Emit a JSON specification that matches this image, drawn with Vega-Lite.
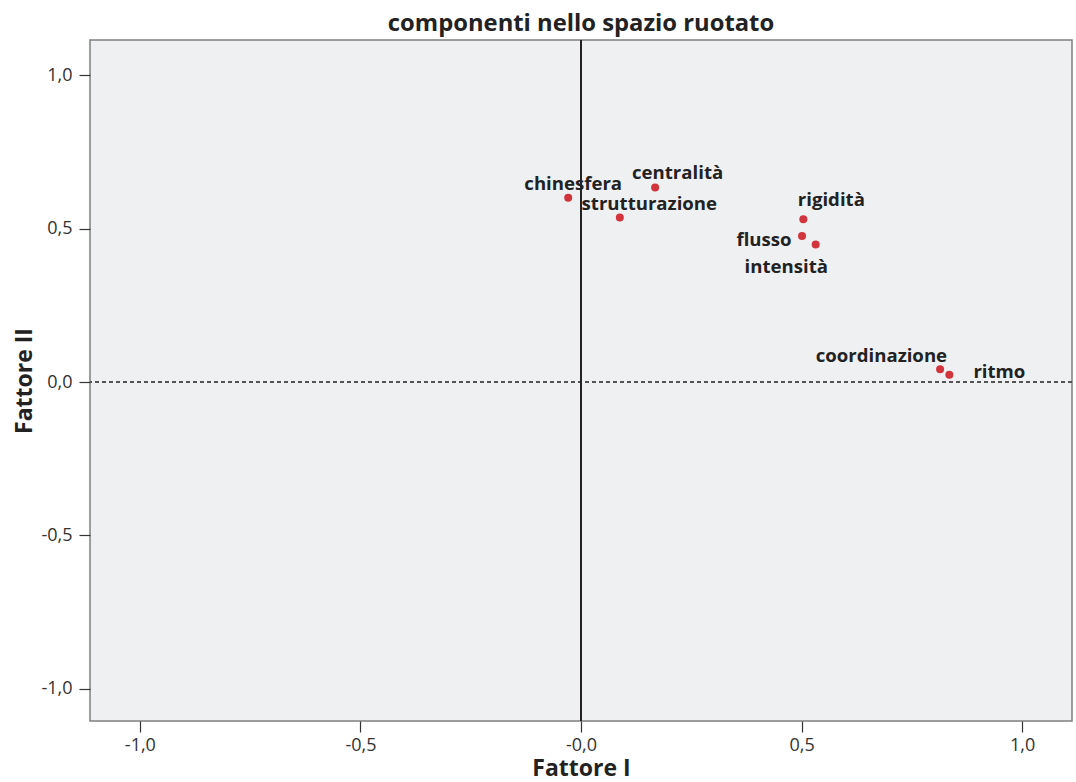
{
  "$schema": "https://vega.github.io/schema/vega-lite/v6.json",
  "autosize": "none",
  "width": 982,
  "height": 681,
  "padding": {"left": 90, "top": 40, "right": 4, "bottom": 61},
  "background": "#ffffff",
  "config": {
    "font": "Open Sans",
    "view": {"fill": "#eff0f2", "stroke": "#7f7f7f", "strokeWidth": 1.5},
    "axis": {"grid": false, "domain": false, "tickColor": "#333333", "tickSize": 11, "tickWidth": 1.2, "labelFont": "Open Sans", "labelFontSize": 18, "labelColor": "#333333", "titleFont": "Open Sans", "titleFontSize": 23, "titleFontWeight": "bold", "titleColor": "#222222"}
  },
  "title": {"text": "componenti nello spazio ruotato", "font": "Open Sans", "fontSize": 23.8, "fontWeight": "bold", "color": "#222222", "frame": "group", "anchor": "middle", "offset": 3},
  "data": {"values": [
    {"var": "chinesfera", "f1": -0.029, "f2": 0.601},
    {"var": "centralità", "f1": 0.168, "f2": 0.634},
    {"var": "strutturazione", "f1": 0.088, "f2": 0.536},
    {"var": "rigidità", "f1": 0.504, "f2": 0.531},
    {"var": "flusso", "f1": 0.501, "f2": 0.476},
    {"var": "intensità", "f1": 0.532, "f2": 0.448},
    {"var": "coordinazione", "f1": 0.814, "f2": 0.042},
    {"var": "ritmo", "f1": 0.835, "f2": 0.024}
  ]},
  "encoding": {
    "x": {"field": "f1", "type": "quantitative", "scale": {"domain": [-1.113, 1.113], "nice": false, "zero": false}, "axis": {"title": "Fattore I", "values": [-1, -0.5, 0, 0.5, 1], "labelExpr": "datum.value == 0 ? '-0,0' : (datum.value < 0 ? '-' : '') + replace(format(abs(datum.value), '.1f'), '.', ',')", "labelPadding": 4, "titleBaseline": "alphabetic", "titleY": 54.5}},
    "y": {"field": "f2", "type": "quantitative", "scale": {"domain": [-1.105, 1.115], "nice": false, "zero": false}, "axis": {"title": "Fattore II", "values": [-1, -0.5, 0, 0.5, 1], "labelExpr": "(datum.value < 0 ? '-' : '') + replace(format(abs(datum.value), '.1f'), '.', ',')", "labelPadding": 7, "titlePadding": 4}}
  },
  "layer": [
    {"mark": {"type": "rule", "color": "#555555", "strokeWidth": 1, "strokeDash": [4, 3]}, "encoding": {"y": {"datum": 0, "type": "quantitative"}, "x": null}},
    {"mark": {"type": "rule", "color": "#222222", "strokeWidth": 2}, "encoding": {"x": {"datum": 0, "type": "quantitative"}, "y": null}},
    {"mark": {"type": "point", "shape": "circle", "filled": true, "size": 64, "color": "#d1343c", "opacity": 1}},
    {"transform": [{"filter": "datum.var == 'chinesfera'"}], "mark": {"type": "text", "font": "Open Sans", "fontWeight": "bold", "fontSize": 18.6, "color": "#222222", "align": "center", "baseline": "alphabetic", "dx": 5, "dy": -8}, "encoding": {"text": {"field": "var"}}},
    {"transform": [{"filter": "datum.var == 'centralità'"}], "mark": {"type": "text", "font": "Open Sans", "fontWeight": "bold", "fontSize": 18.6, "color": "#222222", "align": "center", "baseline": "alphabetic", "dx": 22.5, "dy": -8.7}, "encoding": {"text": {"field": "var"}}},
    {"transform": [{"filter": "datum.var == 'strutturazione'"}], "mark": {"type": "text", "font": "Open Sans", "fontWeight": "bold", "fontSize": 18.6, "color": "#222222", "align": "center", "baseline": "alphabetic", "dx": 29.5, "dy": -8}, "encoding": {"text": {"field": "var"}}},
    {"transform": [{"filter": "datum.var == 'rigidità'"}], "mark": {"type": "text", "font": "Open Sans", "fontWeight": "bold", "fontSize": 18.6, "color": "#222222", "align": "center", "baseline": "alphabetic", "dx": 28, "dy": -13}, "encoding": {"text": {"field": "var"}}},
    {"transform": [{"filter": "datum.var == 'flusso'"}], "mark": {"type": "text", "font": "Open Sans", "fontWeight": "bold", "fontSize": 18.6, "color": "#222222", "align": "center", "baseline": "alphabetic", "dx": -38, "dy": 10}, "encoding": {"text": {"field": "var"}}},
    {"transform": [{"filter": "datum.var == 'intensità'"}], "mark": {"type": "text", "font": "Open Sans", "fontWeight": "bold", "fontSize": 18.6, "color": "#222222", "align": "center", "baseline": "alphabetic", "dx": -29.4, "dy": 28}, "encoding": {"text": {"field": "var"}}},
    {"transform": [{"filter": "datum.var == 'coordinazione'"}], "mark": {"type": "text", "font": "Open Sans", "fontWeight": "bold", "fontSize": 18.6, "color": "#222222", "align": "center", "baseline": "alphabetic", "dx": -58.7, "dy": -7.4}, "encoding": {"text": {"field": "var"}}},
    {"transform": [{"filter": "datum.var == 'ritmo'"}], "mark": {"type": "text", "font": "Open Sans", "fontWeight": "bold", "fontSize": 18.6, "color": "#222222", "align": "center", "baseline": "alphabetic", "dx": 50, "dy": 3}, "encoding": {"text": {"field": "var"}}}
  ]
}
